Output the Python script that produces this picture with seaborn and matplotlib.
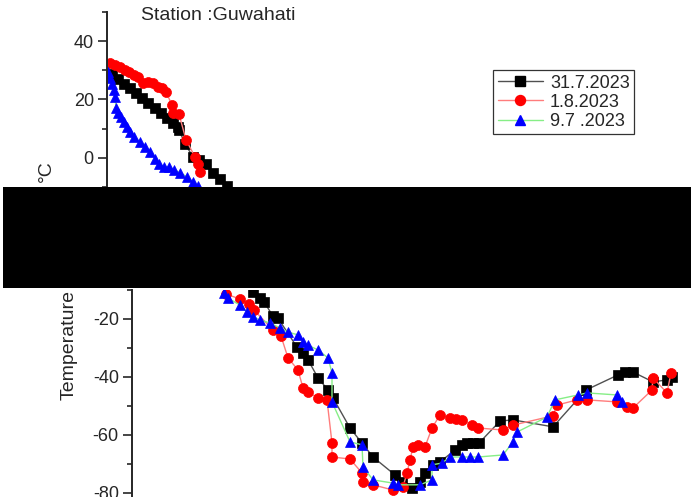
import matplotlib
matplotlib.use("Agg")
import matplotlib.pyplot as plt
from matplotlib.patches import Rectangle
from matplotlib.lines import Line2D
from matplotlib.ticker import MultipleLocator
import seaborn as sns

# Radiosonde temperature profiles, Guwahati (height in km, temperature in degC).
# The upper block holds the levels above -10 degC, the lower block the rest.
height_3107_up = [0.25, 0.55, 0.85, 1.15, 1.45, 1.75, 2.05, 2.4, 2.7, 3.0, 3.3, 3.55,
                  3.6, 3.9, 4.3, 4.6, 4.95, 5.3, 5.65, 6.0]
temp_3107_up = [28.7, 27.0, 25.3, 23.9, 22.2, 20.5, 18.8, 17.1, 15.4, 13.7, 12.0, 10.6,
                9.6, 4.8, 0.3, -0.7, -2.1, -5.1, -7.2, -9.6]
height_3107_lo = [6.05, 6.4, 6.6, 7.05, 7.3, 8.25, 8.55, 8.8, 9.3, 9.8, 10.05, 10.9,
                  11.5, 12.05, 13.15, 13.5, 14.0, 14.4, 14.65, 15.05, 15.4, 16.15, 16.5,
                  16.75, 17.05, 17.35, 18.4, 19.05, 21.05, 22.7, 24.3, 24.65, 25.05,
                  26.05, 26.75, 27.0]
temp_3107_lo = [-10.7, -12.8, -14.1, -19.0, -19.7, -29.7, -31.7, -34.1, -40.3, -44.5, -47.2,
                -57.6, -62.8, -67.6, -73.8, -76.2, -78.3, -76.2, -73.1, -70.3, -69.3,
                -65.2, -63.4, -62.8, -62.8, -62.8, -55.2, -54.8, -57.2, -44.5, -39.3,
                -38.3, -38.3, -41.7, -41.0, -40.0]

height_0108_up = [0.15, 0.4, 0.65, 0.9, 1.1, 1.35, 1.55, 1.8, 2.05, 2.3, 2.55, 2.75,
                  2.95, 3.25, 3.3, 3.6, 3.95, 4.4, 4.55, 4.65]
temp_0108_up = [32.5, 31.8, 31.1, 30.1, 29.4, 28.4, 27.7, 25.6, 26.0, 25.6, 24.3, 23.9,
                22.6, 18.1, 15.4, 15.0, 6.2, 0.3, -2.1, -4.8]
height_0108_lo = [4.7, 5.4, 5.85, 6.1, 7.05, 7.45, 7.8, 8.3, 8.55, 8.8, 9.3, 9.75,
                  10.0, 10.0, 10.9, 11.5, 11.55, 12.05, 13.05, 13.55, 13.75, 13.9, 14.05,
                  14.3, 14.65, 15.0, 15.4, 15.9, 16.2, 16.5, 17.0, 17.3, 18.55, 19.05,
                  21.05, 21.25, 22.25, 22.75, 24.25, 24.75, 25.05, 26.0, 26.05, 26.75, 26.95]
temp_0108_lo = [-11.4, -13.1, -14.8, -16.9, -23.8, -25.9, -33.4, -37.6, -43.8, -45.2, -47.2,
                -47.9, -62.8, -67.6, -68.3, -73.1, -76.2, -77.2, -79.0, -77.9, -73.1, -68.6,
                -64.1, -63.4, -64.1, -57.6, -53.1, -54.1, -54.5, -54.8, -56.6, -57.6, -58.3,
                -56.6, -53.4, -49.7, -47.9, -47.9, -48.6, -50.3, -50.7, -44.5, -40.3,
                -45.5, -38.6]

height_0907_up = [0.05, 0.15, 0.25, 0.35, 0.4, 0.45, 0.55, 0.7, 0.85, 1.0, 1.15, 1.35,
                  1.65, 1.9, 2.15, 2.4, 2.6, 2.85, 3.1, 3.35, 3.65, 4.0, 4.3, 4.55]
temp_0907_up = [29.4, 27.4, 25.3, 23.2, 20.9, 17.1, 15.4, 14.0, 12.3, 10.6, 8.9, 7.2,
                5.5, 3.8, 2.1, -0.3, -2.1, -3.1, -3.1, -4.1, -5.1, -6.5, -8.2, -9.6]
height_0907_lo = [4.6, 4.8, 5.4, 5.75, 6.05, 6.4, 6.9, 7.4, 7.8, 8.3, 8.55, 8.8, 9.3,
                  9.8, 10.0, 10.0, 10.9, 11.5, 11.55, 12.05, 13.05, 13.3, 14.4, 15.0, 15.0,
                  15.5, 15.9, 16.5, 16.9, 17.3, 18.55, 19.05, 19.25, 20.75, 21.15, 22.3,
                  22.75, 24.25, 24.5]
temp_0907_lo = [-11.0, -12.8, -15.2, -17.6, -19.3, -20.3, -21.4, -23.1, -24.5, -25.5,
                -27.9, -29.0, -30.7, -33.4, -38.6, -48.6, -62.4, -63.4, -71.0, -75.5,
                -76.6, -77.2, -77.2, -75.5, -70.3, -69.7, -67.6, -67.6, -67.6, -67.6,
                -66.9, -62.4, -59.0, -53.8, -47.9, -46.2, -45.5, -46.2, -48.6]

series_labels = ["31.7.2023", "1.8.2023", "9.7 .2023"]
upper_ticks = [0, 20, 40]
lower_ticks = [-80, -60, -40, -20]

sns.set_style("ticks")
plt.rcParams["font.family"] = ["Liberation Sans", "DejaVu Sans"]
plt.rcParams["axes.unicode_minus"] = False

W, H = 691, 497
fig = plt.figure(figsize=(W / 100, H / 100), dpi=100)


def fx(px):
    return px / W


def fy(py):
    return 1 - py / H


KM_PX = 20.0  # pixels per km along x
ax_top = fig.add_axes([fx(107), fy(187), 1.0 - fx(107), fy(12) - fy(187)])
ax_bot = fig.add_axes([fx(132), 0.0, 1.0 - fx(132), fy(290)])

markers = [("s", 6.5, "black", "#505050"),
           ("o", 7.2, "red", "#ff7c7c"),
           ("^", 7.6, "blue", "#86ee86")]

blocks = [
    (ax_top, [(height_3107_up, temp_3107_up), (height_0108_up, temp_0108_up),
              (height_0907_up, temp_0907_up)]),
    (ax_bot, [(height_3107_lo, temp_3107_lo), (height_0108_lo, temp_0108_lo),
              (height_0907_lo, temp_0907_lo)]),
]

for ax, data in blocks:
    for (xs, ys), (mk, ms, fc, lc) in zip(data, markers):
        sns.lineplot(x=xs, y=ys, ax=ax, estimator=None, sort=False,
                     color=lc, linewidth=1.0, marker=mk, markersize=ms,
                     markerfacecolor=fc, markeredgecolor=fc, markeredgewidth=0.5,
                     legend=False)
    for side in ("top", "right", "bottom"):
        ax.spines[side].set_visible(False)
    ax.spines["left"].set_linewidth(1.4)
    ax.set_xticks([])
    ax.set_xlabel("")
    ax.set_ylabel("")
    ax.yaxis.set_minor_locator(MultipleLocator(10))
    ax.tick_params(axis="y", which="major", length=6.5, width=1.2, pad=3,
                   labelsize=13, direction="out", left=True)
    ax.tick_params(axis="y", which="minor", length=3.5, width=1.2, direction="out", left=True)

ax_top.set_xlim(0, (691 - 107) / KM_PX)
ax_bot.set_xlim(0, (691 - 132) / KM_PX)
ax_top.set_ylim(-10, 50)
ax_top.set_yticks(upper_ticks)
ax_bot.set_ylim(-81.4, -10)
ax_bot.set_yticks(lower_ticks)

fig.text(fx(218), fy(15), "Station :Guwahati", ha="center", va="center", fontsize=14)
fig.text(fx(69), fy(345), "Temperature", rotation=90, ha="center", va="center", fontsize=14)
fig.text(fx(46), fy(171), "°C", rotation=90, ha="center", va="center", fontsize=14)

handles = [Line2D([], [], color=lc, linewidth=1.0, marker=mk, markersize=ms,
                  markerfacecolor=fc, markeredgecolor=fc)
           for mk, ms, fc, lc in markers]
leg = fig.legend(handles, series_labels, loc="upper left",
                 bbox_to_anchor=(fx(493), fy(70)), bbox_transform=fig.transFigure,
                 frameon=True, fancybox=False, edgecolor="black", fontsize=13,
                 handlelength=2.5, handletextpad=0.4, labelspacing=0.12,
                 borderpad=0.25, borderaxespad=0, numpoints=1)
leg.get_frame().set_linewidth(0.9)

fig.add_artist(Rectangle((fx(3), fy(288)), 1.0 - fx(3), fy(187) - fy(288),
                         transform=fig.transFigure, facecolor="black",
                         edgecolor="none", zorder=20))

fig.savefig("out.png", dpi=100, facecolor="white")
